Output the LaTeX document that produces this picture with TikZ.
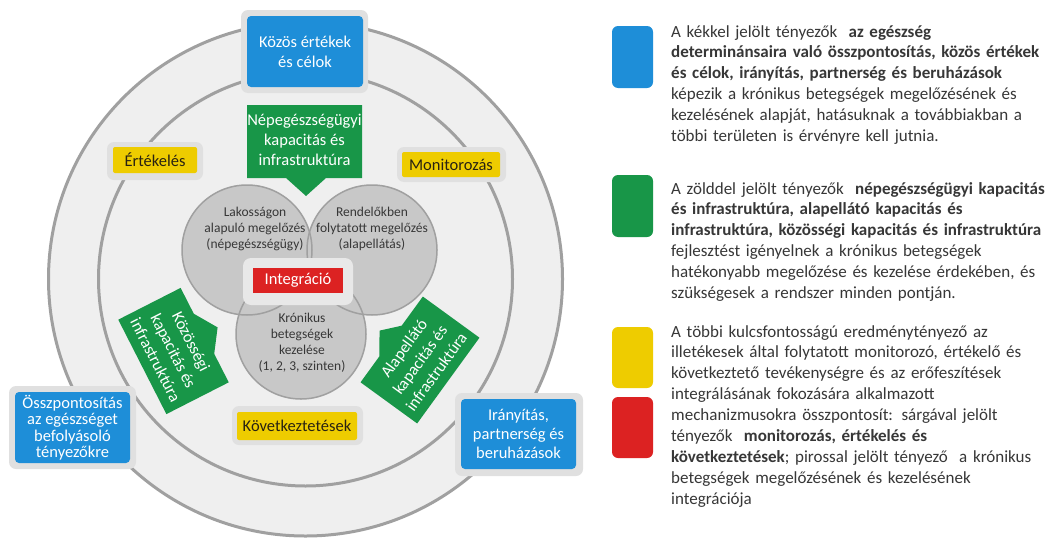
\documentclass[tikz,border=0pt]{standalone}
\usepackage{fontspec}
\setmainfont{Carlito}
\definecolor{myblue}{RGB}{30,142,216}
\definecolor{mygreen}{RGB}{24,150,72}
\definecolor{myyellow}{RGB}{238,204,0}
\definecolor{myred}{RGB}{220,34,34}
\definecolor{haloc}{RGB}{224,224,224}
\definecolor{intc}{RGB}{232,232,232}
\definecolor{ringfill}{RGB}{239,239,239}
\definecolor{ringline}{RGB}{160,160,160}
\definecolor{vennfill}{RGB}{200,200,200}
\definecolor{vennline}{RGB}{160,160,160}
\definecolor{txtdark}{RGB}{55,55,55}
\definecolor{ybtext}{RGB}{40,34,18}
\newcommand{\bxfont}{\fontsize{16.5}{20}\selectfont}
\newcommand{\vnfont}{\fontsize{13.5}{16}\selectfont}
\newcommand{\lgfont}{\fontsize{17}{20.9}\selectfont}
\begin{document}
\begin{tikzpicture}[x=1pt,y=-1pt,
  halo/.style={fill=haloc, rounded corners=7pt, inner sep=0pt},
  bluebox/.style={fill=myblue, rounded corners=4pt, text=white, font=\bxfont, align=center, inner sep=0pt},
  yellowbox/.style={fill=myyellow, rounded corners=2pt, text=ybtext, font=\bxfont, align=center, inner sep=0pt},
  redbox/.style={fill=myred, text=white, font=\bxfont, inner sep=0pt},
  gtext/.style={text=white, font=\bxfont, align=center, inner sep=0pt},
  venntext/.style={text=txtdark, font=\vnfont, align=center, inner sep=0pt},
  legsq/.style={rounded corners=6pt, minimum width=41, minimum height=62, inner sep=0pt},
  legtext/.style={text=txtdark, font=\lgfont, text width=375, align=left, inner sep=0pt, anchor=base west},
  ring/.style={draw=ringline, line width=3pt}
]
\useasboundingbox (0,0) rectangle (1051,538);
\fill[white] (0,0) rectangle (1051,538);

% rings
\draw[ring, fill=ringfill] (305.5,279) circle[radius=257];
\draw[ring] (305.5,279) circle[radius=207];

% Venn circles
\fill[vennfill] (247,250) circle[radius=65];
\fill[vennfill] (372,250) circle[radius=65];
\fill[vennfill] (301,334) circle[radius=65];
\draw[vennline, line width=1.5pt] (247,250) circle[radius=65];
\draw[vennline, line width=1.5pt] (372,250) circle[radius=65];
\draw[vennline, line width=1.5pt] (301,334) circle[radius=65];

\node[venntext] (lak) at (255,229) {Lakosságon\\alapuló megelőzés\\(népegészségügy)};
\node[venntext] (ren) at (372,229) {Rendelőkben\\folytatott megelőzés\\(alapellátás)};
\node[venntext] (kro) at (302,343) {Krónikus\\betegségek\\kezelése\\(1, 2, 3, szinten)};

% integration
\node[fill=intc, rounded corners=8pt, minimum width=110, minimum height=47, inner sep=0pt] (intH) at (298,281.5) {};
\node[redbox, minimum width=90, minimum height=25] (int) at (298,280.5) {Integráció};

% top callout
\fill[mygreen] (247,105) -- (362,105) -- (362,178) -- (326,178) -- (306,196) -- (286,178) -- (247,178) -- cycle;
\node[gtext] (nep) at (304.5,140) {Népegészségügyi\\kapacitás és\\infrastruktúra};

% left callout
\begin{scope}[shift={(173.5,351)}, rotate=-63]
  \fill[mygreen] (-53,-35) -- (-24,-35) -- (-1,-50) -- (21,-35) -- (53,-35) -- (53,35) -- (-53,35) -- cycle;
\end{scope}
\node[gtext, rotate=-63] (koz) at (173.5,351) {Közösségi\\kapacitás és\\infrastruktúra};

% right callout
\begin{scope}[shift={(420,360)}, rotate=54]
  \fill[mygreen] (-53,-35) -- (-21,-35) -- (0,-50) -- (17,-35) -- (53,-35) -- (53,35) -- (-53,35) -- cycle;
\end{scope}
\node[gtext, rotate=54] (alap) at (420,360) {Alapellátó\\kapacitás és\\infrastruktúra};

% yellow boxes
\node[halo, minimum width=96, minimum height=38] (ertH) at (155,161) {};
\node[yellowbox, minimum width=84, minimum height=26] (ert) at (155,160) {Értékelés};
\node[halo, minimum width=109, minimum height=35] (monH) at (451.5,164.5) {};
\node[yellowbox, minimum width=98, minimum height=25] (mon) at (451,164.5) {Monitorozás};
\node[halo, minimum width=131, minimum height=39] (kovH) at (297.5,425.5) {};
\node[yellowbox, minimum width=120, minimum height=28] (kov) at (297,426) {Következtetések};

% blue boxes
\node[halo, minimum width=127, minimum height=83] (kozosH) at (304.5,51.5) {};
\node[bluebox, minimum width=116, minimum height=71] (kozos) at (305,51.5) {Közös értékek\\és célok};
\node[halo, minimum width=127, minimum height=83] (osszH) at (72.5,427.5) {};
\node[bluebox, minimum width=115, minimum height=71, font=\fontsize{16.5}{16.5}\selectfont] (ossz) at (72.5,427.5) {Összpontosítás\\az egészséget\\befolyásoló\\tényezőkre};
\node[halo, minimum width=128, minimum height=83] (iranyH) at (519,434.5) {};
\node[bluebox, minimum width=115, minimum height=70, font=\fontsize{16.5}{19}\selectfont] (irany) at (518.5,434) {Irányítás,\\partnerség és\\beruházások};

% legend
\node[legsq, fill=myblue] (lb) at (632.5,57) {};
\node[legsq, fill=mygreen] (lg) at (632.5,206) {};
\node[legsq, fill=myyellow, minimum height=61] (ly) at (632.5,357.5) {};
\node[legsq, fill=myred, minimum height=61] (lr) at (632.5,427.5) {};

\node[legtext] (tb) at (671,37) {A kékkel jelölt tényezők\ \ \textbf{az egészség}\\
\textbf{determinánsaira való összpontosítás, közös értékek}\\
\textbf{és célok, irányítás, partnerség és beruházások}\\
képezik a krónikus betegségek megelőzésének és\\
kezelésének alapját, hatásuknak a továbbiakban a\\
többi területen is érvényre kell jutnia.};

\node[legtext] (tg) at (671,194) {A zölddel jelölt tényezők\ \ \textbf{népegészségügyi kapacitás}\\
\textbf{és infrastruktúra, alapellátó kapacitás és}\\
\textbf{infrastruktúra, közösségi kapacitás és infrastruktúra}\\
fejlesztést igényelnek a krónikus betegségek\\
hatékonyabb megelőzése és kezelése érdekében, és\\
szükségesek a rendszer minden pontján.};

\node[legtext] (ty) at (671,337) {A többi kulcsfontosságú eredménytényező az\\
illetékesek által folytatott monitorozó, értékelő és\\
következtető tevékenységre és az erőfeszítések\\
integrálásának fokozására alkalmazott\\
mechanizmusokra összpontosít: sárgával jelölt\\
tényezők\ \ \textbf{monitorozás, értékelés és}\\
\textbf{következtetések}; pirossal jelölt tényező\ \ a krónikus\\
betegségek megelőzésének és kezelésének\\
integrációja};
\end{tikzpicture}
\end{document}
